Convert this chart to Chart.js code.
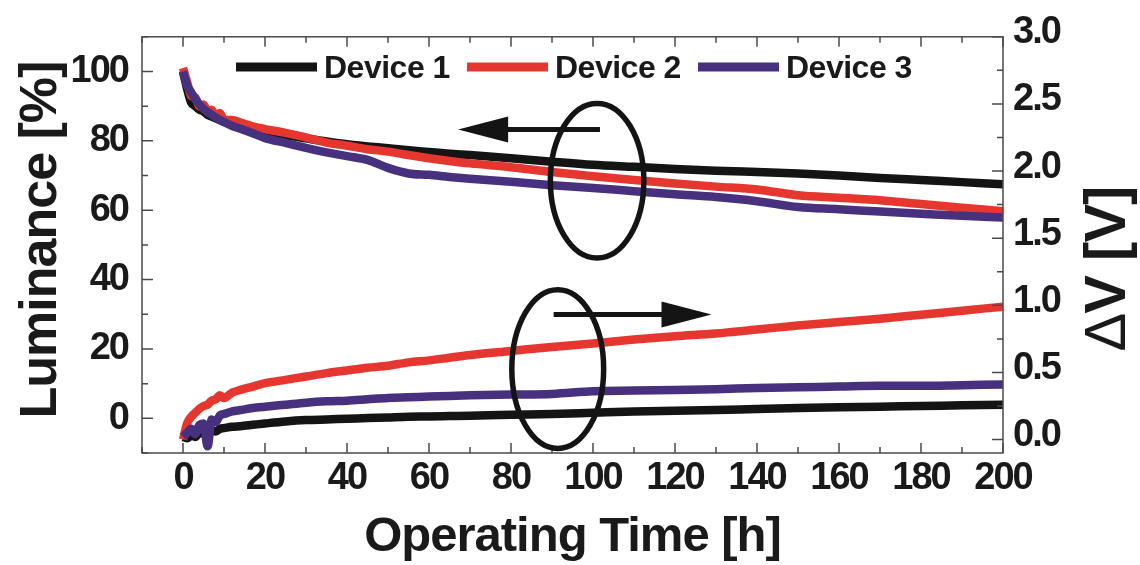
<!DOCTYPE html>
<html>
<head>
<meta charset="utf-8">
<script src="https://cdn.jsdelivr.net/npm/chart.js@4.4.0/dist/chart.umd.min.js"></script>
<style>
  html, body { margin: 0; padding: 0; background: #fff; }
  #wrap { width: 1140px; height: 565px; }
</style>
</head>
<body>
<div id="wrap"><canvas id="lifetime"></canvas></div>
<script>
// operating time [h]
const hours = [0, 1, 2, 3, 4, 5, 6, 7, 8, 9, 10, 12, 14, 17, 20, 25, 30, 35, 40, 45, 50, 55, 60, 65, 70,
  80, 90, 100, 110, 120, 130, 140, 150, 160, 170, 180, 190, 200];

// luminance [%] (left axis)
const lumDevice1 = [100, 95, 91, 90, 89, 88.5, 87.5, 87, 86.5, 86, 85.5, 84.7, 84, 83, 82.2, 81.6, 80.7, 79.8, 79, 78.4,
  77.9, 77.3, 76.8, 76.3, 75.9, 75, 74, 73.1, 72.5, 71.9, 71.4, 71, 70.6, 70, 69.3, 68.7, 68.1, 67.5];
const lumDevice2 = [101, 97, 93, 92.5, 90, 90.5, 88.5, 89, 87, 88, 86, 86, 85.3, 84.2, 83.4, 82.3, 81, 79.5, 78.6, 77.6,
  76.9, 75.9, 75, 74.2, 73.5, 72.4, 71, 69.8, 68.7, 67.7, 66.8, 66, 64.3, 63.6, 62.9, 61.8, 60.7, 59.7];
const lumDevice3 = [100, 96, 94, 92, 90.5, 89.3, 88.3, 87.5, 86.7, 86, 85.4, 84.3, 83.5, 82.2, 80.8, 79.4, 78, 76.7, 75.6, 74.5,
  72.2, 70.6, 70.2, 69.6, 69.1, 68.2, 67.2, 66.4, 65.5, 64.6, 63.8, 62.6, 60.9, 60.3, 59.6, 59, 58.4, 57.9];

// voltage rise dV [V] (right axis)
const dvDevice1 = [0.02, 0.01, 0.03, 0.02, 0.05, 0.045, 0.05, 0.07, 0.06, 0.08, 0.085, 0.095, 0.1, 0.11, 0.12, 0.135, 0.145,
  0.15, 0.155, 0.16, 0.165, 0.17, 0.172, 0.175, 0.178, 0.185, 0.19, 0.2, 0.21, 0.215, 0.22, 0.228, 0.235, 0.24, 0.245, 0.25, 0.255, 0.26];
const dvDevice2 = [0, 0.12, 0.17, 0.2, 0.23, 0.25, 0.26, 0.29, 0.3, 0.33, 0.31, 0.35, 0.37, 0.395, 0.42, 0.445, 0.47,
  0.495, 0.515, 0.535, 0.55, 0.575, 0.59, 0.61, 0.63, 0.66, 0.69, 0.715, 0.745, 0.77, 0.79, 0.82, 0.85, 0.875, 0.9, 0.93, 0.96, 0.99];
const dvDevice3 = [0.02, 0.05, 0.08, 0.04, 0.11, 0.12, -0.05, 0.15, 0.13, 0.18, 0.19, 0.21, 0.22, 0.235, 0.245, 0.26, 0.275,
  0.285, 0.29, 0.3, 0.31, 0.315, 0.32, 0.325, 0.33, 0.335, 0.34, 0.36, 0.365, 0.37, 0.375, 0.385, 0.39, 0.395, 0.4, 0.4, 0.405, 0.41];

const deviceNames = ['Device 1', 'Device 2', 'Device 3'];
const deviceColors = ['#141414', '#e5372f', '#47317f'];

// ticks
const timeTicks = [-10, 0, 10, 20, 30, 40, 50, 60, 70, 80, 90, 100, 110, 120, 130, 140, 150, 160, 170, 180, 190, 200];
const lumTicks = [-10, 0, 10, 20, 30, 40, 50, 60, 70, 80, 90, 100, 110];
const dvTicks = [0, 0.25, 0.5, 0.75, 1, 1.25, 1.5, 1.75, 2, 2.25, 2.5, 2.75, 3];

// ellipse / arrow marks (data coords: time, luminance)
const upperMark = { t: 101, lum: 68.5, rt: 11.4, rl: 22.3, arrowFrom: 101.7, arrowTo: 67.1, arrowLum: 83.3 };
const lowerMark = { t: 91.4, lum: 14.2, rt: 11.2, rl: 22.9, arrowFrom: 90.4, arrowTo: 128.9, arrowLum: 29.9 };

const pts = arr => hours.map((h, i) => ({ x: h, y: arr[i] }));
const TXT = '#1a1a1a';
const FONT = "'Liberation Sans', Arial, sans-serif";

function series(label, arr, idx, axis) {
  return {
    label: label,
    data: pts(arr),
    yAxisID: axis,
    borderColor: deviceColors[idx],
    borderWidth: 8.5,
    pointRadius: 0,
    cubicInterpolationMode: 'monotone',
    order: 3 - idx
  };
}

function arrow(ctx, x1, x2, y) {
  const dir = Math.sign(x2 - x1);
  ctx.lineWidth = 5;
  ctx.beginPath();
  ctx.moveTo(x1, y);
  ctx.lineTo(x2 - dir * 40, y);
  ctx.stroke();
  ctx.beginPath();
  ctx.moveTo(x2, y);
  ctx.lineTo(x2 - dir * 50, y - 13);
  ctx.lineTo(x2 - dir * 50, y + 13);
  ctx.closePath();
  ctx.fill();
}

const decor = {
  id: 'decor',
  beforeDraw(chart) {
    chart.ctx.letterSpacing = '-2px';
  },
  afterDraw(chart) {
    const { ctx, chartArea: a, scales } = chart;
    const sx = scales.x, sl = scales.yL, sr = scales.yR;
    ctx.save();
    ctx.letterSpacing = '0px';

    // frame and inward ticks
    ctx.strokeStyle = '#4a4a4a';
    ctx.lineWidth = 1.5;
    ctx.strokeRect(a.left, a.top, a.right - a.left, a.bottom - a.top);
    ctx.beginPath();
    sx.ticks.forEach(t => {
      const p = sx.getPixelForValue(t.value);
      const len = t.value % 20 === 0 ? 10 : 6;
      ctx.moveTo(p, a.bottom); ctx.lineTo(p, a.bottom - len);
      ctx.moveTo(p, a.top); ctx.lineTo(p, a.top + len);
    });
    sl.ticks.forEach(t => {
      const p = sl.getPixelForValue(t.value);
      const len = t.value % 20 === 0 ? 11 : 6;
      ctx.moveTo(a.left, p); ctx.lineTo(a.left + len, p);
    });
    sr.ticks.forEach(t => {
      const p = sr.getPixelForValue(t.value);
      const len = Math.round(t.value * 100) % 50 === 0 ? 11 : 6;
      ctx.moveTo(a.right, p); ctx.lineTo(a.right - len, p);
    });
    ctx.stroke();

    // ellipses and arrows
    ctx.strokeStyle = '#141414';
    ctx.fillStyle = '#141414';
    [upperMark, lowerMark].forEach(m => {
      const cx = sx.getPixelForValue(m.t), cy = sl.getPixelForValue(m.lum);
      const rx = sx.getPixelForValue(m.t + m.rt) - cx;
      const ry = cy - sl.getPixelForValue(m.lum + m.rl);
      ctx.lineWidth = 5.5;
      ctx.beginPath();
      ctx.ellipse(cx, cy, rx, ry, 0, 0, Math.PI * 2);
      ctx.stroke();
      arrow(ctx, sx.getPixelForValue(m.arrowFrom), sx.getPixelForValue(m.arrowTo), sl.getPixelForValue(m.arrowLum));
    });

    // legend
    ctx.font = 'bold 32px ' + FONT;
    ctx.letterSpacing = '-0.5px';
    ctx.textBaseline = 'middle';
    ctx.textAlign = 'left';
    chart.data.datasets.slice(0, 3).forEach((ds, i) => {
      const x0 = 236 + i * 231;
      ctx.strokeStyle = ds.borderColor;
      ctx.lineWidth = 9;
      ctx.beginPath();
      ctx.moveTo(x0, 67); ctx.lineTo(x0 + 81, 67);
      ctx.stroke();
      ctx.fillStyle = TXT;
      ctx.fillText(ds.label, x0 + 88, 69);
    });

    // axis titles
    ctx.fillStyle = TXT;
    ctx.textBaseline = 'alphabetic';
    ctx.textAlign = 'center';
    ctx.letterSpacing = '-1px';
    ctx.font = 'bold 49px ' + FONT;
    ctx.fillText('Operating Time [h]', (a.left + a.right) / 2, 551);

    ctx.save();
    ctx.translate(56, 240);
    ctx.rotate(-Math.PI / 2);
    ctx.font = 'bold 52px ' + FONT;
    ctx.fillText('Luminance [%]', 0, 0);
    ctx.restore();

    ctx.save();
    ctx.translate(1125, 269);
    ctx.rotate(-Math.PI / 2);
    ctx.textAlign = 'left';
    ctx.font = '58px ' + FONT;
    const wd = ctx.measureText('Δ').width;
    ctx.font = 'bold 58px ' + FONT;
    const wr = ctx.measureText('V [V]').width;
    const x0 = -(wd + wr) / 2;
    ctx.font = '58px ' + FONT;
    ctx.fillText('Δ', x0, 0);
    ctx.font = 'bold 58px ' + FONT;
    ctx.fillText('V [V]', x0 + wd, 0);
    ctx.restore();

    ctx.restore();
  }
};

const tickFont = { family: FONT, size: 38, weight: 'bold' };

new Chart(document.getElementById('lifetime'), {
  type: 'line',
  data: {
    datasets: [
      series(deviceNames[0], lumDevice1, 0, 'yL'),
      series(deviceNames[1], lumDevice2, 1, 'yL'),
      series(deviceNames[2], lumDevice3, 2, 'yL'),
      series(deviceNames[0] + ' dV', dvDevice1, 0, 'yR'),
      series(deviceNames[1] + ' dV', dvDevice2, 1, 'yR'),
      series(deviceNames[2] + ' dV', dvDevice3, 2, 'yR')
    ]
  },
  options: {
    responsive: true,
    maintainAspectRatio: false,
    animation: false,
    layout: { padding: { top: 33, left: 0, right: 0, bottom: 0 } },
    plugins: { legend: { display: false }, tooltip: { enabled: false } },
    scales: {
      x: {
        type: 'linear', min: -10, max: 200,
        grid: { display: false, drawTicks: false },
        border: { display: false },
        afterBuildTicks: s => { s.ticks = timeTicks.map(v => ({ value: v })); },
        afterFit: s => { s.height = 112; },
        ticks: {
          color: TXT, font: tickFont, padding: 3, maxRotation: 0, autoSkip: false,
          callback: v => (v >= 0 && v % 20 === 0 ? String(v) : '')
        }
      },
      yL: {
        type: 'linear', position: 'left', min: -10, max: 110,
        grid: { display: false, drawTicks: false },
        border: { display: false },
        afterBuildTicks: s => { s.ticks = lumTicks.map(v => ({ value: v })); },
        afterFit: s => { s.width = 142; },
        ticks: {
          color: TXT, font: tickFont, padding: 14, autoSkip: false,
          callback: v => (v >= 0 && v % 20 === 0 ? String(v) : '')
        }
      },
      yR: {
        type: 'linear', position: 'right', min: -0.1, max: 3.0,
        grid: { display: false, drawTicks: false },
        border: { display: false },
        afterBuildTicks: s => { s.ticks = dvTicks.map(v => ({ value: v })); },
        afterFit: s => { s.width = 137; },
        ticks: {
          color: TXT, font: tickFont, padding: 10, labelOffset: -4, autoSkip: false,
          callback: v => (Math.round(v * 100) % 50 === 0 ? v.toFixed(1) : '')
        }
      }
    }
  },
  plugins: [decor]
});
</script>
</body>
</html>
